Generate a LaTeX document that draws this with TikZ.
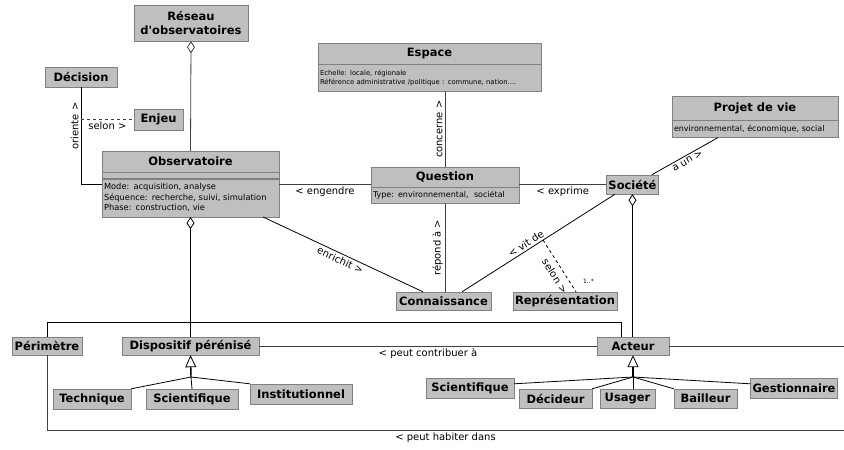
\documentclass[tikz,border=0pt]{standalone}
\usepackage{fontspec}
\setmainfont{DejaVu Sans}
\usetikzlibrary{positioning,arrows.meta}

\begin{document}
\begin{tikzpicture}[x=1pt, y=-1pt]
    % Styles
    \tikzstyle{cls} = [rectangle, draw=black!50, fill=black!25, inner sep=2pt, font=\bfseries\fontsize{11.5}{13.5}\selectfont, align=center]
    \tikzstyle{attr} = [rectangle, draw=black!50, fill=black!25, inner sep=2pt, font=\fontsize{8}{10}\selectfont, align=left]
    \tikzstyle{assoc} = [draw=black!75, line width=0.8pt]
    \tikzstyle{lbl} = [font=\fontsize{10}{12}\selectfont, inner sep=2pt]
    \tikzstyle{aggr} = [{Diamond[open, length=12pt, width=8pt, line width=0.8pt]}-]
    \tikzstyle{gen} = [-{Triangle[open, length=12pt, width=11pt, line width=0.8pt]}]

    \useasboundingbox (0,0) rectangle (844,450);

    % Nodes
    \node[cls, minimum width=114pt, minimum height=36pt] (reseau) at (191,23) {Réseau\\d\textquotesingle observatoires};
    \node[cls, minimum width=72pt, minimum height=20pt] (decision) at (81,77) {Décision};
    \node[cls, minimum width=49pt, minimum height=21pt] (enjeu) at (158.5,119.5) {Enjeu};

    \node[cls, minimum width=177pt, minimum height=21pt] (obs) at (190.5,161.5) {Observatoire};
    \node[attr, minimum width=177pt, minimum height=6pt, below=0pt of obs] (obsops) {};
    \node[attr, text width=173pt, minimum height=38pt, font=\fontsize{8.3}{10.5}\selectfont, below=0pt of obsops] (obsattr) {Mode: acquisition, analyse\\Séquence: recherche, suivi, simulation\\Phase: construction, vie};

    \node[cls, minimum width=223pt, minimum height=21pt] (espace) at (429.5,53.5) {Espace};
    \node[attr, text width=219pt, minimum height=27pt, font=\fontsize{6.8}{8.5}\selectfont, below=0pt of espace] (espaceattr) {Echelle: locale, régionale\\Référence administrative /politique : commune, nation....};

    \node[cls, minimum width=148pt, minimum height=20pt] (question) at (445,177) {Question};
    \node[attr, text width=144pt, minimum height=16pt, below=0pt of question] (questionattr) {Type: environnemental,\ \ sociétal};

    \node[cls, minimum width=51pt, minimum height=19pt] (societe) at (632.5,184.5) {Société};
    \node[cls, minimum width=166pt, minimum height=24pt] (projet) at (755,108) {Projet de vie};
    \node[attr, text width=162pt, minimum height=17pt, below=0pt of projet] (projetattr) {environnemental, économique, social};

    \node[cls, minimum width=95pt, minimum height=18pt] (connaissance) at (443.5,301) {Connaissance};
    \node[cls, minimum width=104pt, minimum height=18pt] (representation) at (565,301) {Représentation};

    \node[cls, minimum width=70pt, minimum height=18pt] (perimetre) at (47,346) {Périmètre};
    \node[cls, minimum width=137pt, minimum height=18pt] (dispositif) at (190.5,346) {Dispositif pérénisé};
    \node[cls, minimum width=72pt, minimum height=18pt] (acteur) at (633,346) {Acteur};

    \node[cls, minimum width=78pt, minimum height=20pt] (technique) at (92,399) {Technique};
    \node[cls, minimum width=92pt, minimum height=20pt] (scientA) at (192,399) {Scientifique};
    \node[cls, minimum width=102pt, minimum height=20pt] (institutionnel) at (301,394) {Institutionnel};

    \node[cls, minimum width=88pt, minimum height=20pt] (scientB) at (470,388) {Scientifique};
    \node[cls, minimum width=73pt, minimum height=19pt] (decideur) at (555.5,398.5) {Décideur};
    \node[cls, minimum width=55pt, minimum height=19pt] (usager) at (627.5,398.5) {Usager};
    \node[cls, minimum width=63pt, minimum height=19pt] (bailleur) at (705.5,398.5) {Bailleur};
    \node[cls, minimum width=86pt, minimum height=20pt] (gestionnaire) at (794,388) {Gestionnaire};

    % Junctions
    \coordinate (orient) at (decision.south |- enjeu.west);
    \coordinate (djoin) at (191,377);
    \coordinate (ajoin) at (633,377);
    \coordinate (eastA) at (844,346);
    \coordinate (eastB) at (844,430);

    % Associations
    \draw[assoc, aggr] (reseau.south) -- (obs.north);
    \draw[assoc, draw=black] (decision.south) |- node[lbl, pos=0.2, rotate=90, anchor=south] {oriente >} ([yshift=-6pt]obsattr.north west);
    \draw[assoc, dashed] (orient) -- node[lbl, below] {selon >} (enjeu.west);
    \draw[assoc] ([yshift=-6pt]obsattr.north east) -- node[lbl, below] {< engendre} ([yshift=-6pt]obsattr.north east -| question.west);
    \draw[assoc] (espaceattr.south -| question.north) -- node[lbl, rotate=90, anchor=south] {concerne >} (question.north);
    \draw[assoc] (societe.west -| question.east) -- node[lbl, below] {< exprime} (societe.west);
    \draw[assoc, draw=black] ([xshift=-7pt]societe.north east) -- node[lbl, sloped, below] {a un >} ([xshift=-37pt]projetattr.south);
    \draw[assoc, draw=black, aggr] (societe.south) -- (societe.south |- acteur.north);
    \draw[assoc, draw=black] ([xshift=72.5pt]obsattr.south) -- node[lbl, sloped, below] {enrichit >} ([xshift=-20.5pt]connaissance.north);
    \draw[assoc] (questionattr.south) -- node[lbl, rotate=90, anchor=south] {répond à >} (questionattr.south |- connaissance.north);
    \draw[assoc, draw=black] ([xshift=18.5pt]connaissance.north) -- node[lbl, pos=0.44, sloped, above] {< vit de} coordinate[pos=0.53] (vitde) ([xshift=-17.5pt]societe.south);
    \draw[assoc, dashed, draw=black] (vitde) -- node[lbl, pos=0.6, sloped, below=3pt] {selon >} node[pos=0.8, right=10pt, font=\fontsize{6}{7}\selectfont] {1..*} ([xshift=11pt]representation.north);

    \draw[draw=black, line width=1.6pt, aggr] (obsattr.south) -- (dispositif.north);
    \draw[assoc] (dispositif) -- node[lbl, below] {< peut contribuer à} (acteur);
    \draw[assoc] (acteur.east) -- (eastA);
    \draw[assoc] (perimetre.south) |- node[lbl, pos=0.75, below] {< peut habiter dans} (eastB);
    \draw[assoc, draw=black] (perimetre.north) -- ++(0,-14) -| ([xshift=-12pt]acteur.north);

    % Generalisations
    \draw[draw=black, line width=1.4pt, gen] (djoin) -- (dispositif.south);
    \draw[assoc, draw=black] (djoin) -- (technique.north east);
    \draw[assoc, draw=black] (djoin) -- (scientA.north);
    \draw[assoc, draw=black] (djoin) -- (institutionnel.north west);

    \draw[draw=black, line width=1.4pt, gen] (ajoin) -- (acteur.south);
    \draw[assoc, draw=black] (ajoin) -- ([yshift=-6pt]scientB.north east);
    \draw[assoc, draw=black] (ajoin) -- (decideur.north east);
    \draw[assoc, draw=black] (ajoin) -- (ajoin |- usager.north);
    \draw[assoc, draw=black] (ajoin) -- (bailleur.north west);
    \draw[assoc, draw=black] (ajoin) -- ([yshift=-6pt]gestionnaire.north west);
\end{tikzpicture}
\end{document}
